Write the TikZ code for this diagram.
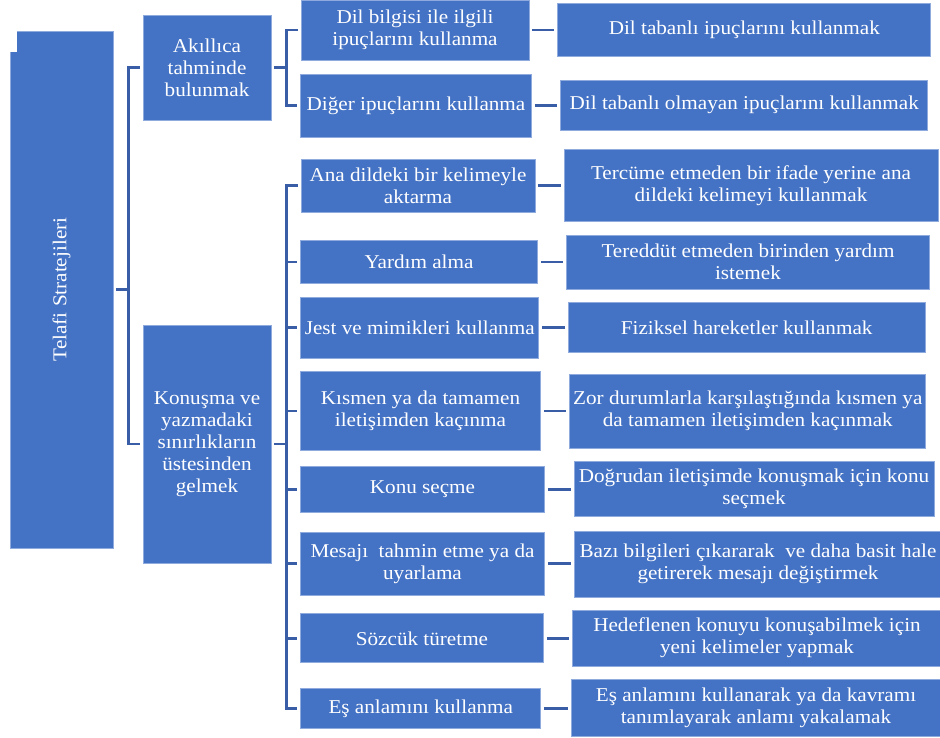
\documentclass[tikz,border=0pt]{standalone}
\usepackage{fontspec}
\usepackage{graphicx}
\setmainfont{Liberation Serif}[FakeStretch=1.08]
\usetikzlibrary{positioning}
\definecolor{boxblue}{HTML}{4472C4}
\definecolor{boxedge}{HTML}{8FAADC}
\definecolor{linkblue}{HTML}{3A5DA8}

\begin{document}
\begin{tikzpicture}[ x=1pt, y=-1pt,
	box/.style={rectangle, fill=boxblue, draw=boxedge, line width=0.7pt, text=white, align=center, inner sep=0pt, font=\fontsize{19.6}{22}\selectfont},
	link/.style={draw=linkblue, line width=2.5pt} ]
	\useasboundingbox (0,0) rectangle (940,737);
	% root
	\node[box, minimum width=103, minimum height=517] (root) at (61.5,289.5) {\rotatebox{90}{Telafi Stratejileri}};
	\fill[white] (9,30) rectangle (17,52);
	% first level
	\node[box, minimum width=128, minimum height=105] (a1) at (207,67.5) {Akıllıca\\tahminde\\bulunmak};
	\node[box, minimum width=128, minimum height=238] (a2) at (207,444) {Konuşma ve\\yazmadaki\\sınırlıkların\\üstesinden\\gelmek};
	% second level
	\node[box, minimum width=228, minimum height=60] (b1) at (415,30) {Dil bilgisi ile ilgili\\ipuçlarını kullanma};
	\node[box, minimum width=231, minimum height=63] (b2) at (416,105.5) {Diğer ipuçlarını kullanma};
	\node[box, minimum width=234, minimum height=53] (b3) at (418,185.5) {Ana dildeki bir kelimeyle\\aktarma};
	\node[box, minimum width=237, minimum height=43] (b4) at (419,262) {Yardım alma};
	\node[box, minimum width=238, minimum height=61] (b5) at (419.7,327.7) {Jest ve mimikleri kullanma};
	\node[box, minimum width=240, minimum height=79] (b6) at (420.5,411.2) {Kısmen ya da tamamen\\iletişimden kaçınma};
	\node[box, minimum width=244, minimum height=46] (b7) at (422.5,489.5) {Konu seçme};
	\node[box, minimum width=244, minimum height=63] (b8) at (422.5,563.7) {Mesajı\ \ tahmin etme ya da\\uyarlama};
	\node[box, minimum width=243, minimum height=49] (b9) at (422,638.3) {Sözcük türetme};
	\node[box, minimum width=240, minimum height=40] (b10) at (420.8,708.3) {Eş anlamını kullanma};
	% third level
	\node[box, minimum width=373, minimum height=53] (c1) at (744.3,29.5) {Dil tabanlı ipuçlarını kullanmak};
	\node[box, minimum width=367, minimum height=50] (c2) at (744.3,105) {Dil tabanlı olmayan ipuçlarını kullanmak};
	\node[box, minimum width=374, minimum height=72] (c3) at (751,185.8) {Tercüme etmeden bir ifade yerine ana\\dildeki kelimeyi kullanmak};
	\node[box, minimum width=363, minimum height=54] (c4) at (748,262.2) {Tereddüt etmeden birinden yardım\\istemek};
	\node[box, minimum width=357, minimum height=50] (c5) at (746.7,327.7) {Fiziksel hareketler kullanmak};
	\node[box, minimum width=356, minimum height=74] (c6) at (747.8,411.2) {Zor durumlarla karşılaştığında kısmen ya\\da tamamen iletişimden kaçınmak};
	\node[box, minimum width=360, minimum height=55] (c7) at (754,489.2) {Doğrudan iletişimde konuşmak için konu\\seçmek};
	\node[box, minimum width=368, minimum height=66] (c8) at (758,564.2) {Bazı bilgileri çıkararak\ \ ve daha basit hale\\getirerek mesajı değiştirmek};
	\node[box, minimum width=369, minimum height=56] (c9) at (757,638) {Hedeflenen konuyu konuşabilmek için\\yeni kelimeler yapmak};
	\node[box, minimum width=370, minimum height=57] (c10) at (756,708) {Eş anlamını kullanarak ya da kavramı\\tanımlayarak anlamı yakalamak};
	% connectors
	\draw[link, shorten <=3pt] (root.east) -- ++(15,0) coordinate (j0);
	\foreach \a in {a1,a2}
		\draw[link, shorten >=3pt] (j0) |- (\a.west);
	\draw[link, shorten <=3pt] (a1.east) -- ++(15,0) coordinate (j1);
	\foreach \i in {1,2}
		\draw[link, shorten >=3pt] (j1) |- (b\i.west);
	\draw[link, shorten <=3pt] (a2.east) -- ++(15,0) coordinate (j2);
	\foreach \i in {3,...,10}
		\draw[link, shorten >=3pt] (j2) |- (b\i.west);
	\foreach \i in {1,...,10}
		\draw[link, shorten <=3pt, shorten >=3pt] (b\i.east) -- (b\i.east -| c\i.west);
\end{tikzpicture}
\end{document}
